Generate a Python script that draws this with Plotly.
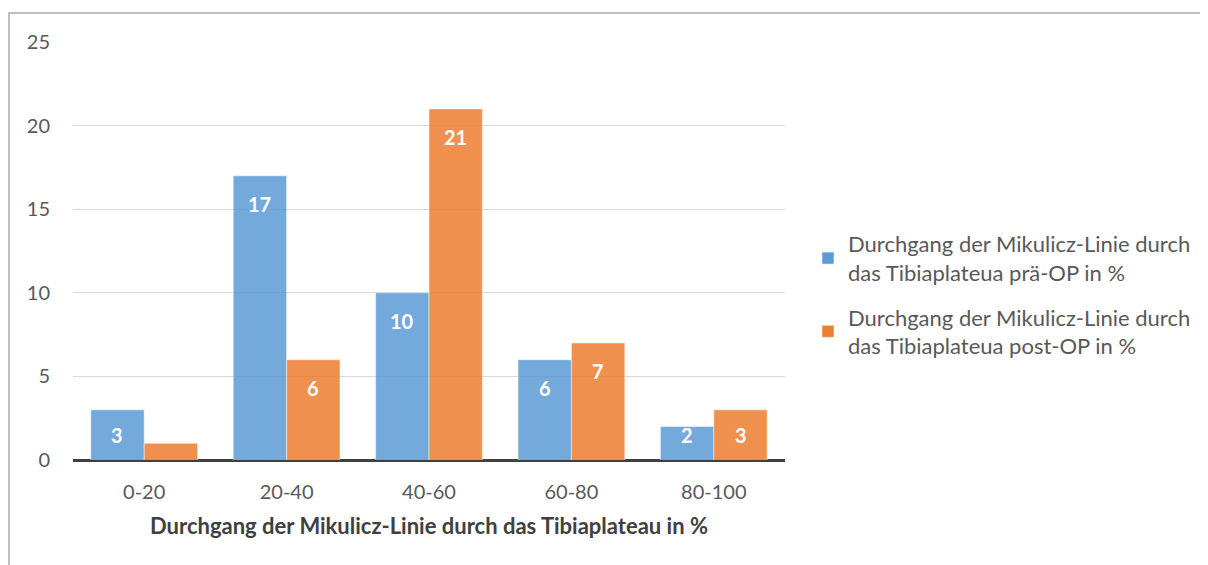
import plotly.graph_objects as go

categories = ["0-20", "20-40", "40-60", "60-80", "80-100"]
pre_op = [3, 17, 10, 6, 2]
post_op = [1, 6, 21, 7, 3]
series_names = [
    "Durchgang der Mikulicz-Linie durch<br>das Tibiaplateua prä-OP in %",
    "Durchgang der Mikulicz-Linie durch<br>das Tibiaplateua post-OP in %",
]
x_title = "Durchgang der Mikulicz-Linie durch das Tibiaplateau in %"
y_ticks = [0, 5, 10, 15, 20, 25]

FONT = "Lato"
colors = ["#5B9BD5", "#ED7D31"]

# page has an 8px body margin; work in figure pixel coords
OX, OY = 8, 8
W, H = 1208, 565 - OY
plot_left, plot_right, plot_top, plot_bottom = 73 - OX, 785 - OX, 42 - OY, 460 - OY
L, R, T, B = plot_left, W - plot_right, plot_top, H - plot_bottom
plot_h = plot_bottom - plot_top
plot_w = plot_right - plot_left
px_per_unit = plot_h / 25.0

fig = go.Figure()
for vals, name, col, grp in zip([pre_op, post_op], series_names, colors, ["a", "b"]):
    fig.add_trace(go.Bar(
        x=categories, y=vals, name=name, legendgroup=grp,
        marker=dict(color=col, opacity=0.85,
                    line=dict(color="rgba(255,255,255,0.5)", width=1)),
    ))

annotations = []
group_w = plot_w / len(categories)
bar_w = group_w * 0.75 / 2
for vals, sign in [(pre_op, -1), (post_op, 1)]:
    for c, v in zip(categories, vals):
        h = v * px_per_unit
        if h < 25:
            continue
        annotations.append(dict(
            x=c, y=v, xref="x", yref="y", text=f"<b>{v}</b>",
            showarrow=False, xshift=sign * bar_w / 2,
            yshift=-min(28, h - 25), yanchor="middle",
            font=dict(family=FONT, size=20, color="white"),
        ))

fx = lambda px: (px - OX - plot_left) / plot_w
fy = lambda py: (plot_bottom - (py - OY)) / plot_h

fig.update_layout(
    width=W, height=H,
    margin=dict(l=L, r=R, t=T, b=B, autoexpand=False),
    paper_bgcolor="white", plot_bgcolor="white",
    barmode="group", bargap=0.25, bargroupgap=0.0,
    font=dict(family=FONT, size=20, color="#595959"),
    xaxis=dict(
        showgrid=False, showline=False, ticks="",
        tickfont=dict(size=20, color="#595959"), ticklabelstandoff=18,
        title=dict(text=f"<b>{x_title}</b>", font=dict(size=22, color="#404040"), standoff=16),
    ),
    yaxis=dict(
        range=[0, 25], tickvals=y_ticks, showline=False,
        gridcolor="#D9D9D9", gridwidth=1,
        zeroline=True, zerolinecolor="#404040", zerolinewidth=3,
        tickfont=dict(size=20, color="#595959"), ticklabelstandoff=22,
    ),
    legend=dict(
        x=fx(808), xanchor="left",
        y=fy(295), yanchor="middle",
        font=dict(family=FONT, size=22, color="#595959"),
        tracegroupgap=13, itemwidth=30,
    ),
    annotations=annotations,
    shapes=[
        dict(type="line", xref="paper", yref="paper",
             x0=fx(9), x1=fx(9), y0=fy(570), y1=fy(13),
             line=dict(color="#BFBFBF", width=2)),
        dict(type="line", xref="paper", yref="paper",
             x0=fx(8), x1=fx(1215), y0=fy(13), y1=fy(13),
             line=dict(color="#BFBFBF", width=2)),
    ],
)

fig.write_html("out.html")
